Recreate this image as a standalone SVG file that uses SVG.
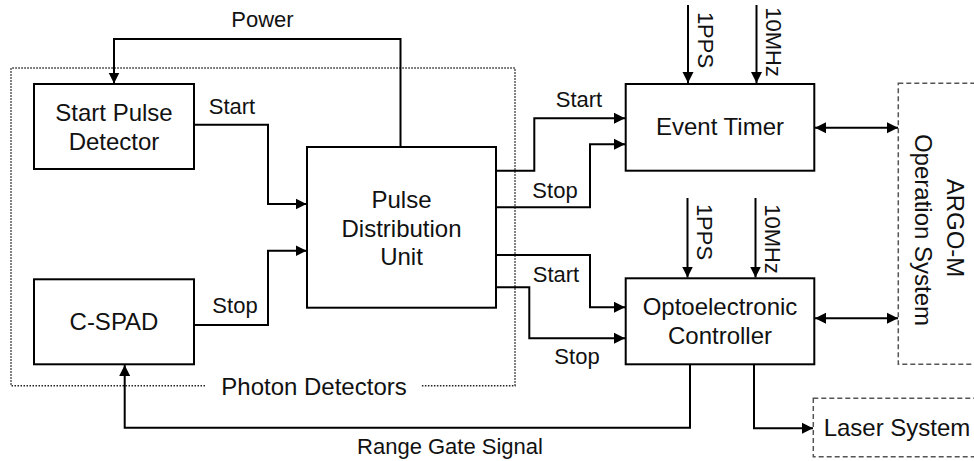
<svg xmlns="http://www.w3.org/2000/svg" width="974" height="461" viewBox="0 0 974 461">
<style>
.box{fill:#fff;stroke:#000;stroke-width:2}
.dash{fill:none;stroke:#555;stroke-width:1.5;stroke-dasharray:5 3}
.dot{fill:none;stroke:#222;stroke-width:1.5;stroke-dasharray:1.5 1.5}
.ln{fill:none;stroke:#000;stroke-width:2}
.t{font-family:"Liberation Sans",Arial,sans-serif;font-size:24px;fill:#111;text-anchor:middle}
.l{font-family:"Liberation Sans",Arial,sans-serif;font-size:22px;fill:#111;text-anchor:middle}
</style>
<defs>
<marker id="ah" markerUnits="userSpaceOnUse" markerWidth="12" markerHeight="12" viewBox="0 0 12 12" refX="11" refY="6" orient="auto">
<path d="M0,0.5 L11,6 L0,11.5 Z" fill="#000"/>
</marker>
<marker id="as" markerUnits="userSpaceOnUse" markerWidth="12" markerHeight="12" viewBox="0 0 12 12" refX="1" refY="6" orient="auto">
<path d="M12,0.5 L1,6 L12,11.5 Z" fill="#000"/>
</marker>
</defs>
<rect width="974" height="461" fill="#fff"/>

<g id="photon-detectors">
<path class="dot" d="M205,385.7 H11 V68 H515 V385.7 H421"/>
<text class="t" x="314" y="395">Photon Detectors</text>
</g>

<g id="argo">
<rect class="dash" x="898.3" y="83.3" width="100" height="281"/>
<text class="t" transform="translate(947.4,228) rotate(90)">ARGO-M</text>
<text class="t" transform="translate(915.4,230) rotate(90)">Operation System</text>
</g>

<g id="laser">
<rect class="dash" x="813.3" y="398.3" width="180" height="58.4"/>
<text class="t" x="897" y="435.5">Laser System</text>
</g>

<g id="connectors">
<path class="ln" d="M400.5,147 V39 H114 V83.5" marker-end="url(#ah)"/>
<path class="ln" d="M194,124.7 H268 V204 H306.5" marker-end="url(#ah)"/>
<path class="ln" d="M194,325 H268 V250.7 H306.5" marker-end="url(#ah)"/>
<path class="ln" d="M496,170.7 H534.3 V118.3 H625" marker-end="url(#ah)"/>
<path class="ln" d="M496,207.3 H590 V144.3 H625" marker-end="url(#ah)"/>
<path class="ln" d="M496,255 H590 V307.3 H625" marker-end="url(#ah)"/>
<path class="ln" d="M496,287.3 H529.3 V338.3 H625" marker-end="url(#ah)"/>
<path class="ln" d="M688,5 V83" marker-end="url(#ah)"/>
<path class="ln" d="M756.5,5 V83" marker-end="url(#ah)"/>
<path class="ln" d="M687.5,198 V277.5" marker-end="url(#ah)"/>
<path class="ln" d="M755.5,198 V277.5" marker-end="url(#ah)"/>
<path class="ln" d="M815,127.8 H898" marker-start="url(#as)" marker-end="url(#ah)"/>
<path class="ln" d="M815,318.3 H898" marker-start="url(#as)" marker-end="url(#ah)"/>
<path class="ln" d="M690,364.3 V427.7 H124.7 V365" marker-end="url(#ah)"/>
<path class="ln" d="M754,364.3 V428.3 H813" marker-end="url(#ah)"/>
<text class="l" x="262.5" y="27">Power</text>
<text class="l" x="232" y="114">Start</text>
<text class="l" x="235" y="313">Stop</text>
<text class="l" x="579" y="107">Start</text>
<text class="l" x="555" y="198">Stop</text>
<text class="l" x="556" y="281.5">Start</text>
<text class="l" x="577" y="364">Stop</text>
<text class="l" transform="translate(698,40) rotate(90)">1PPS</text>
<text class="l" transform="translate(766,42) rotate(90)">10MHz</text>
<text class="l" transform="translate(697,232) rotate(90)">1PPS</text>
<text class="l" transform="translate(765,239) rotate(90)">10MHz</text>
<text class="l" x="450" y="454">Range Gate Signal</text>
</g>

<g id="start-pulse-detector">
<rect class="box" x="34" y="84" width="160" height="85"/>
<text class="t" x="114" y="121">Start Pulse</text>
<text class="t" x="114" y="150">Detector</text>
</g>

<g id="c-spad">
<rect class="box" x="34" y="279.3" width="160" height="85"/>
<text class="t" x="114" y="329.5">C-SPAD</text>
</g>

<g id="pulse-distribution-unit">
<rect class="box" x="307" y="147" width="189" height="160.7"/>
<text class="t" x="401.5" y="207.5">Pulse</text>
<text class="t" x="401.5" y="236.5">Distribution</text>
<text class="t" x="401.5" y="265">Unit</text>
</g>

<g id="event-timer">
<rect class="box" x="625.7" y="84" width="188.6" height="86.7"/>
<text class="t" x="720" y="134.5">Event Timer</text>
</g>

<g id="optoelectronic-controller">
<rect class="box" x="625.7" y="278.3" width="188.6" height="86"/>
<text class="t" x="720" y="314.5">Optoelectronic</text>
<text class="t" x="720" y="343.5">Controller</text>
</g>
</svg>
